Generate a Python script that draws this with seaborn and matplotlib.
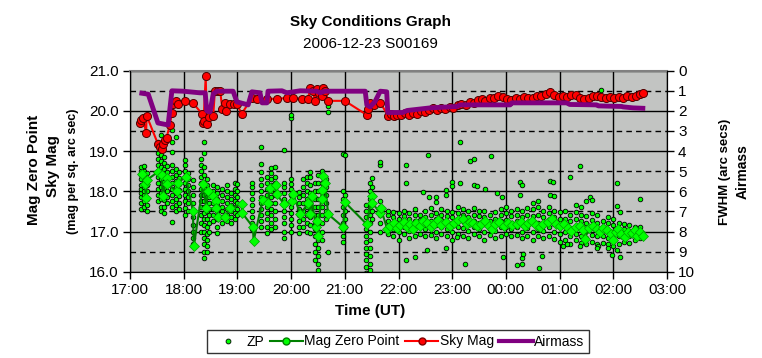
import matplotlib
matplotlib.use('Agg')
import matplotlib.pyplot as plt
import matplotlib.ticker as mticker
from matplotlib.lines import Line2D
import seaborn as sns
import pandas as pd

# time in decimal hours UT (values past 24 are after midnight)
sky_time = [17.19, 17.21, 17.24, 17.30, 17.31, 17.52, 17.55, 17.59, 17.62, 17.66, 17.68, 17.74,
            17.78, 17.81, 17.86, 17.90, 18.02, 18.17, 18.34, 18.36, 18.37, 18.41, 18.43, 18.47,
            18.55, 18.58, 18.63, 18.68, 18.72, 18.77, 18.79, 18.86, 18.93, 18.99, 19.08, 19.27,
            19.36, 19.55, 19.73, 19.92, 20.04, 20.20, 20.32, 20.35, 20.41, 20.44, 20.48, 20.52,
            20.57, 20.60, 20.64, 20.69, 21.00, 21.41, 21.44, 21.47, 21.55, 21.66, 21.81, 21.86,
            21.92, 21.98, 22.05, 22.12, 22.20, 22.27, 22.35, 22.42, 22.50, 22.57, 22.64, 22.72,
            22.80, 22.87, 22.95, 23.02, 23.10, 23.17, 23.25, 23.33, 23.40, 23.48, 23.55, 23.62,
            23.70, 23.78, 23.86, 23.94, 24.02, 24.10, 24.18, 24.26, 24.34, 24.42, 24.50, 24.58,
            24.66, 24.74, 24.82, 24.90, 24.98, 25.06, 25.14, 25.22, 25.30, 25.38, 25.46, 25.54,
            25.62, 25.70, 25.78, 25.86, 25.94, 26.02, 26.10, 26.18, 26.26, 26.34, 26.42, 26.50,
            26.55]
sky_mag = [19.70, 19.78, 19.83, 19.46, 19.88, 19.18, 19.11, 19.04, 19.17, 19.27, 19.33, 19.64,
           19.95, 20.17, 20.24, 20.17, 20.25, 20.20, 19.93, 19.70, 19.75, 20.87, 19.68, 19.84,
           19.88, 20.49, 20.49, 20.49, 20.04, 20.20, 19.99, 20.17, 20.17, 20.17, 19.93, 20.32,
           20.30, 20.30, 20.30, 20.32, 20.32, 20.30, 20.30, 20.57, 20.49, 20.25, 20.54, 20.44,
           20.37, 20.57, 20.49, 20.25, 20.25, 19.90, 20.04, 20.20, 20.14, 20.20, 19.88, 19.92,
           19.87, 19.91, 19.89, 19.94, 19.89, 19.96, 19.92, 19.99, 19.97, 20.03, 20.06, 20.01,
           20.07, 20.04, 20.09, 20.06, 20.14, 20.18, 20.15, 20.22, 20.19, 20.26, 20.29, 20.24,
           20.31, 20.33, 20.37, 20.35, 20.30, 20.28, 20.32, 20.29, 20.34, 20.31, 20.33, 20.38,
           20.36, 20.42, 20.46, 20.40, 20.35, 20.38, 20.34, 20.40, 20.39, 20.33, 20.30, 20.33,
           20.36, 20.37, 20.34, 20.32, 20.35, 20.31, 20.34, 20.33, 20.37, 20.35, 20.37, 20.41,
           20.44]

airmass_time = [17.22, 17.34, 17.52, 17.71, 17.78, 17.99, 18.30, 18.40, 18.43, 18.49, 18.55, 18.62,
                18.92, 18.99, 19.20, 19.27, 19.42, 19.46, 19.55, 19.57, 19.83, 19.92, 20.17, 20.48,
                20.54, 20.63, 21.38, 21.41, 21.47, 21.56, 21.66, 21.78, 21.80, 22.08, 22.16, 22.59,
                23.09, 23.15, 24.08, 24.11, 25.13, 25.19, 25.69, 25.72, 26.16, 26.18, 26.37, 26.55]
airmass = [1.12, 1.17, 2.60, 2.70, 1.00, 1.02, 1.10, 1.10, 2.00, 2.05, 1.15, 1.02,
           1.02, 1.55, 1.70, 1.05, 1.10, 1.60, 1.60, 1.02, 1.00, 1.10, 1.00, 1.02,
           1.10, 1.02, 1.02, 1.70, 1.80, 1.55, 1.02, 1.05, 2.08, 2.08, 1.98, 1.85,
           1.78, 1.70, 1.70, 1.60, 1.60, 1.68, 1.70, 1.75, 1.78, 1.80, 1.85, 1.87]

mzp_time = [17.22, 17.28, 17.30, 17.31, 17.52, 17.59, 17.61, 17.68, 17.69, 17.87, 17.89, 18.04,
            18.17, 18.19, 18.36, 18.42, 18.45, 18.55, 18.60, 18.61, 18.64, 18.77, 18.86, 19.08,
            19.09, 19.29, 19.30, 19.47, 19.57, 19.60, 19.71, 19.73, 19.87, 20.01, 20.04, 20.17,
            20.32, 20.36, 20.38, 20.46, 20.48, 20.50, 20.57, 20.58, 20.59, 20.63, 20.69, 20.97,
            21.00, 21.41, 21.50, 21.51, 21.66, 21.67, 21.79, 21.85, 21.92, 21.98, 22.03, 22.10,
            22.16, 22.22, 22.27, 22.33, 22.40, 22.46, 22.53, 22.60, 22.66, 22.74, 22.80, 22.88,
            22.95, 23.03, 23.10, 23.20, 23.27, 23.33, 23.39, 23.46, 23.53, 23.61, 23.68, 23.74,
            23.80, 23.88, 23.96, 24.04, 24.12, 24.20, 24.28, 24.35, 24.42, 24.49, 24.56, 24.63,
            24.70, 24.78, 24.86, 24.93, 25.00, 25.08, 25.15, 25.22, 25.30, 25.38, 25.43, 25.47,
            25.55, 25.62, 25.69, 25.75, 25.81, 25.88, 25.95, 26.00, 26.05, 26.09, 26.15, 26.22,
            26.28, 26.35, 26.40, 26.44, 26.50, 26.55]
mzp_mag = [18.44, 18.18, 17.83, 18.28, 18.48, 18.41, 17.88, 18.34, 18.18, 18.01, 18.21, 18.36,
           17.51, 16.64, 18.18, 17.58, 18.01, 17.88, 17.76, 17.58, 17.36, 17.36, 17.58, 17.68,
           17.46, 17.11, 16.76, 17.78, 17.71, 18.08, 18.16, 17.93, 17.68, 17.76, 17.93, 17.43,
           17.71, 17.43, 17.88, 17.11, 17.26, 16.88, 18.03, 17.81, 18.38, 18.21, 17.43, 17.11,
           17.73, 17.18, 17.88, 17.71, 17.46, 17.58, 17.06, 17.13, 17.20, 17.08, 17.16, 17.23,
           17.10, 17.18, 17.06, 17.20, 17.13, 17.26, 17.21, 17.10, 17.18, 17.28, 17.16, 17.23,
           17.13, 17.21, 17.28, 17.31, 17.18, 17.23, 17.21, 17.13, 17.18, 17.26, 17.13, 17.06,
           17.18, 17.23, 17.13, 17.21, 17.16, 17.18, 17.23, 17.13, 17.20, 17.26, 17.16, 17.10,
           17.18, 17.23, 17.31, 17.18, 17.13, 17.18, 17.08, 17.01, 17.10, 17.13, 17.03, 16.82,
           17.08, 17.13, 17.06, 16.98, 17.08, 17.03, 16.93, 16.78, 16.98, 17.06, 16.93, 16.86,
           16.98, 16.96, 17.03, 16.88, 16.98, 16.88]

# individual zero point measurements, grouped in columns (one column per observation block)
zp_col_time = [17.20, 17.26, 17.31, 17.52, 17.57, 17.63, 17.68, 17.78, 17.85, 17.91, 18.03, 18.08,
               18.17, 18.32, 18.37, 18.43, 18.48, 18.55, 18.62, 18.72, 18.80, 18.88, 18.95, 19.00,
               19.28, 19.44, 19.55, 19.62, 19.70, 19.86, 20.00, 20.15, 20.22, 20.30, 20.36, 20.45,
               20.50, 20.58, 20.65, 20.69, 20.97, 21.00, 21.40, 21.46, 21.50, 21.66,
               21.80, 21.90, 22.00, 22.10, 22.20, 22.30, 22.40, 22.50, 22.60, 22.70, 22.80, 22.90,
               23.00, 23.10, 23.20, 23.30, 23.40, 23.50, 23.60, 23.70, 23.80, 23.90, 24.00, 24.10,
               24.20, 24.30, 24.40, 24.50, 24.60, 24.70, 24.80, 24.90, 25.00, 25.10, 25.20, 25.30,
               25.40, 25.50, 25.60, 25.70, 25.80, 25.90, 26.00, 26.10, 26.20, 26.30, 26.40, 26.50]
zp_col_mags = [
    [17.55, 17.7, 17.85, 17.95, 18.05, 18.15, 18.3, 18.4, 18.5, 18.6],
    [17.6, 17.75, 17.9, 18.0, 18.1, 18.25, 18.35, 18.5, 18.62],
    [17.5, 17.65, 17.8, 18.0, 18.15, 18.28, 18.45],
    [17.75, 17.9, 18.05, 18.2, 18.35, 18.5, 18.65, 18.8, 18.95, 19.22],
    [17.5, 17.6, 17.8, 17.95, 18.1, 18.3, 18.45, 18.6, 18.75, 18.9, 19.05, 19.4],
    [17.45, 17.62, 17.78, 17.92, 18.08, 18.22, 18.4, 18.55, 18.7, 18.85],
    [17.7, 17.85, 18.0, 18.15, 18.3, 18.48, 18.62],
    [17.23, 17.6, 17.75, 17.9, 18.05, 18.2, 18.35, 18.5, 18.65, 18.98, 19.22, 19.52],
    [17.5, 17.65, 17.8, 17.95, 18.1, 18.25, 18.4, 18.55, 19.35],
    [17.55, 17.7, 17.88, 18.02, 18.18, 18.32, 18.48],
    [17.42, 17.58, 17.75, 17.9, 18.05, 18.2, 18.35, 18.5, 18.65, 18.78],
    [17.5, 17.7, 17.85, 18.0, 18.15, 18.3, 18.45],
    [16.7, 16.85, 17.0, 17.15, 17.35, 17.5, 17.7, 17.9, 18.1, 18.28],
    [17.0, 17.2, 17.4, 17.6, 17.75, 17.9, 18.05, 18.2, 18.35, 18.5, 18.65, 18.8],
    [16.35, 16.5, 16.7, 16.85, 17.0, 17.15, 17.3, 17.45, 17.6, 17.75, 17.9, 18.05, 18.2, 18.4,
     18.6, 18.95, 19.23],
    [16.5, 16.65, 16.8, 16.95, 17.1, 17.3, 17.5, 17.7, 17.85, 18.0, 18.15, 18.3],
    [17.0, 17.2, 17.4, 17.55, 17.7, 17.85, 18.0],
    [17.25, 17.4, 17.55, 17.7, 17.85, 18.0, 18.15],
    [16.96, 17.1, 17.3, 17.5, 17.65, 17.8, 17.95, 18.1],
    [17.2, 17.35, 17.5, 17.62, 17.75, 17.9, 18.05],
    [17.25, 17.4, 17.55, 17.7, 17.85, 18.0, 18.15],
    [17.2, 17.35, 17.5, 17.65, 17.8, 17.95],
    [17.3, 17.45, 17.6, 17.75, 17.9, 18.05, 18.2],
    [17.4, 17.55, 17.7, 17.85, 18.0, 18.18],
    [17.05, 17.2, 17.35, 17.5, 17.65, 17.8, 17.95, 18.1, 18.2],
    [17.1, 17.25, 17.4, 17.55, 17.7, 17.85, 18.0, 18.15, 18.3, 18.48, 18.68, 19.1],
    [16.96, 17.1, 17.3, 17.45, 17.6, 17.75, 17.9, 18.05, 18.2, 18.35],
    [17.05, 17.2, 17.4, 17.55, 17.7, 17.85, 18.0, 18.15, 18.3, 18.45, 18.58],
    [17.1, 17.3, 17.5, 17.7, 17.9, 18.05, 18.2, 18.35, 18.6],
    [16.85, 17.0, 17.2, 17.35, 17.5, 17.65, 17.8, 17.95, 18.1, 18.2, 19.03],
    [17.0, 17.15, 17.3, 17.45, 17.6, 17.75, 17.9, 18.05, 18.18, 18.3, 19.82, 19.9],
    [16.96, 17.1, 17.25, 17.4, 17.55, 17.7, 17.85, 17.98],
    [17.1, 17.3, 17.5, 17.7, 17.9, 18.1, 18.3],
    [17.0, 17.2, 17.4, 17.6, 17.8, 18.0, 18.2, 18.35],
    [16.96, 17.15, 17.35, 17.55, 17.75, 17.95, 18.15, 18.35, 18.48],
    [16.3, 16.5, 16.7, 16.9, 17.05, 17.2, 17.4, 17.6, 17.8, 18.0, 18.2],
    [16.05, 16.2, 16.4, 16.6, 16.8, 17.0, 17.2, 17.4, 17.6, 17.8, 18.0, 18.2, 18.4],
    [16.8, 17.0, 17.2, 17.4, 17.6, 17.8, 18.0, 18.2, 18.4, 18.5],
    [17.3, 17.5, 17.7, 17.9, 18.1, 18.3],
    [16.5, 17.45, 19.97, 20.12],
    [16.74, 16.9, 17.05, 17.2, 17.4, 17.6, 17.8, 18.0, 18.93],
    [17.1, 17.3, 17.5, 17.7, 17.9, 18.9],
    [15.97, 16.12, 16.3, 16.45, 16.6, 16.75, 16.9, 17.05, 17.2, 17.35, 17.5, 17.65],
    [16.05, 16.2, 16.4, 16.6, 16.8, 17.0, 17.2, 17.4, 17.6, 17.8, 18.0, 18.2],
    [17.3, 17.5, 17.7, 17.9, 18.1, 18.33],
    [17.0, 17.2, 17.4, 17.6, 17.75, 18.65, 18.72],
    [16.95, 17.1, 17.25, 17.4, 17.5],
    [16.9, 17.05, 17.2, 17.35, 17.48],
    [16.8, 17.0, 17.15, 17.3, 17.45],
    [16.95, 17.1, 17.22, 17.38, 17.52],
    [16.85, 17.02, 17.18, 17.32, 17.45],
    [16.9, 17.08, 17.25, 17.4, 17.55],
    [16.95, 17.12, 17.28, 17.42],
    [16.88, 17.05, 17.2, 17.35, 17.5],
    [16.92, 17.1, 17.25, 17.4, 17.58],
    [16.85, 17.0, 17.15, 17.3, 17.45],
    [16.95, 17.1, 17.28, 17.42, 17.55],
    [16.9, 17.05, 17.2, 17.38, 17.5],
    [16.8, 17.0, 17.18, 17.35, 17.48],
    [16.95, 17.12, 17.28, 17.45, 17.6],
    [16.9, 17.08, 17.25, 17.4, 17.55],
    [16.85, 17.02, 17.2, 17.35, 17.5],
    [16.95, 17.1, 17.25, 17.42, 17.58],
    [16.9, 17.05, 17.22, 17.38, 17.52],
    [16.8, 17.0, 17.18, 17.35, 17.5],
    [16.92, 17.08, 17.25, 17.4],
    [16.85, 17.02, 17.18, 17.32, 17.48],
    [16.9, 17.1, 17.25, 17.42, 17.55],
    [16.95, 17.12, 17.28, 17.45, 17.6],
    [16.88, 17.05, 17.22, 17.38, 17.52],
    [16.92, 17.1, 17.25, 17.4, 17.55],
    [16.85, 17.0, 17.18, 17.35, 17.5],
    [16.9, 17.08, 17.22, 17.4, 17.58],
    [16.8, 17.0, 17.2, 17.38, 17.55, 17.7],
    [16.88, 17.05, 17.22, 17.4, 17.6, 17.75],
    [16.85, 17.02, 17.18, 17.35, 17.52],
    [16.9, 17.1, 17.28, 17.45, 17.62],
    [16.82, 17.0, 17.18, 17.35, 17.5],
    [16.75, 16.95, 17.12, 17.3, 17.48],
    [16.8, 17.0, 17.15, 17.32, 17.5],
    [16.7, 16.9, 17.08, 17.25, 17.42],
    [16.78, 16.95, 17.12, 17.3, 17.48, 17.65],
    [16.72, 16.9, 17.08, 17.25, 17.42, 17.6],
    [16.68, 16.85, 17.02, 17.2, 17.38],
    [16.75, 16.92, 17.1, 17.28, 17.45],
    [16.7, 16.88, 17.05, 17.22, 17.4],
    [16.72, 16.9, 17.08, 17.25],
    [16.68, 16.85, 17.02, 17.2, 17.35],
    [16.65, 16.8, 16.98, 17.15, 17.3],
    [16.7, 16.88, 17.05, 17.2],
    [16.75, 16.9, 17.05, 17.18],
    [16.72, 16.88, 17.02, 17.15],
    [16.8, 16.95, 17.1],
    [16.85, 17.0, 17.12],
]

# scattered outliers after 22:00
zp_extra_time = [22.14, 22.14, 22.14, 22.30, 22.45, 22.55, 22.53, 22.57, 22.70, 22.70, 22.88, 22.88,
                 22.88, 22.99, 22.99, 23.09, 23.15, 23.15, 23.24, 23.33, 23.40, 23.41, 23.46, 23.61,
                 23.72, 23.83, 23.92, 23.94, 24.20, 24.27, 24.30, 24.27, 24.30, 24.30, 24.32, 24.62,
                 24.68, 24.82, 24.88, 24.82, 24.90, 25.06, 25.13, 25.19, 25.38, 25.38, 25.57, 25.50,
                 25.60, 25.72, 25.70, 25.90, 25.98, 26.07, 26.07, 26.13, 26.13, 26.07, 26.50, 25.77]
zp_extra_mag = [18.65, 18.20, 16.29, 16.36, 17.98, 18.90, 16.54, 17.85, 17.85, 17.73, 18.03, 17.90,
                16.58, 18.23, 18.13, 16.86, 18.20, 19.22, 16.20, 18.76, 18.80, 18.15, 18.13, 18.05,
                18.88, 17.96, 17.85, 16.37, 16.17, 18.23, 18.15, 17.90, 16.20, 16.33, 16.45, 16.10,
                16.40, 18.25, 18.22, 17.90, 17.88, 16.65, 16.70, 18.36, 18.63, 16.65, 17.85, 17.75,
                17.78, 16.65, 16.60, 16.60, 16.42, 18.20, 17.63, 17.48, 16.36, 16.53, 17.80, 20.52]

zp_t = [t for t, col in zip(zp_col_time, zp_col_mags) for _ in col] + zp_extra_time
zp_m = [m for col in zp_col_mags for m in col] + zp_extra_mag
zp_df = pd.DataFrame({'time': zp_t, 'mag': zp_m})

plt.rcParams['font.family'] = ['Liberation Sans', 'DejaVu Sans']

fig = plt.figure(figsize=(7.62, 3.58), dpi=100)
ax = fig.add_axes([130 / 762, 86.3 / 358, 537 / 762, 201 / 358])
ax.set_facecolor('#c2c4c2')

sns.scatterplot(data=zp_df, x='time', y='mag', ax=ax, s=11, color='#00ff00',
                edgecolor='black', linewidth=0.6, zorder=3, legend=False)
sns.lineplot(x=mzp_time, y=mzp_mag, ax=ax, estimator=None, sort=False, color='#008000',
             lw=1.5, marker='D', markersize=5, markerfacecolor='#00ff00',
             markeredgecolor='#00a000', markeredgewidth=0.5, zorder=4)
sns.lineplot(x=sky_time, y=sky_mag, ax=ax, estimator=None, sort=False, color='#ff0000',
             lw=1.5, marker='o', markersize=5.8, markerfacecolor='#ff0000',
             markeredgecolor='#500000', markeredgewidth=0.7, zorder=5)

ax.set_xlim(17, 27)
ax.set_ylim(16, 21)
ax.xaxis.set_major_locator(mticker.MultipleLocator(1))
ax.xaxis.set_major_formatter(mticker.FuncFormatter(lambda v, p: f'{int(round(v)) % 24:02d}:00'))
ax.yaxis.set_major_locator(mticker.MultipleLocator(1))
ax.yaxis.set_minor_locator(mticker.MultipleLocator(0.5))
ax.yaxis.set_major_formatter(mticker.FormatStrFormatter('%.1f'))
ax.grid(which='major', axis='both', color='black', lw=1, ls='-')
ax.grid(which='minor', axis='y', color='black', lw=1, ls=(0, (4, 3)))
ax.set_axisbelow(True)
ax.tick_params(which='major', direction='out', length=5, width=1, labelsize=11, pad=3)
ax.tick_params(which='minor', length=0)
ax.set_xlabel('')
ax.set_ylabel('')
for s in ['left', 'bottom', 'right']:
    ax.spines[s].set_color('black')
ax.spines['top'].set_color('#808080')
ax.spines['top'].set_linewidth(1.5)

ax2 = ax.twinx()
sns.lineplot(x=airmass_time, y=airmass, ax=ax2, estimator=None, sort=False,
             color='#800080', lw=3.5, zorder=6)
ax2.set_ylim(10, 0)
ax2.yaxis.set_major_locator(mticker.MultipleLocator(1))
ax2.tick_params(direction='out', length=5, width=1, labelsize=11, pad=3)
ax2.set_ylabel('')
ax2.spines['top'].set_visible(False)

# titles and axis labels
fig.text(370 / 762, 1 - 22 / 358, 'Sky Conditions Graph', ha='center', va='center',
         fontsize=11, fontweight='bold')
fig.text(370 / 762, 1 - 44 / 358, '2006-12-23 S00169', ha='center', va='center', fontsize=11)
fig.text(370 / 762, 1 - 311 / 358, 'Time (UT)', ha='center', va='center',
         fontsize=11, fontweight='bold')
fig.text(34 / 762, 1 - 170 / 358, 'Mag Zero Point', rotation=90, ha='center', va='center',
         fontsize=11, fontweight='bold')
fig.text(53 / 762, 1 - 166 / 358, 'Sky Mag', rotation=90, ha='center', va='center',
         fontsize=11, fontweight='bold')
fig.text(73 / 762, 1 - 171 / 358, '(mag per sq. arc sec)', rotation=90, ha='center',
         va='center', fontsize=9, fontweight='bold')
fig.text(725 / 762, 1 - 172 / 358, 'FWHM (arc secs)', rotation=90, ha='center', va='center',
         fontsize=9.5, fontweight='bold')
fig.text(743 / 762, 1 - 172 / 358, 'Airmass', rotation=90, ha='center', va='center',
         fontsize=10, fontweight='bold')

handles = [
    Line2D([], [], ls='none', marker='o', markersize=3.5, markerfacecolor='#00ff00',
           markeredgecolor='black', markeredgewidth=0.6),
    Line2D([], [], color='#008000', lw=1.5, marker='o', markersize=5,
           markerfacecolor='#00ff00', markeredgecolor='#008000'),
    Line2D([], [], color='#ff0000', lw=1.5, marker='o', markersize=5,
           markerfacecolor='#ff0000', markeredgecolor='#800000'),
    Line2D([], [], color='#800080', lw=3),
]
leg = fig.legend(handles, ['ZP', 'Mag Zero Point', 'Sky Mag', 'Airmass'], loc='center',
                 bbox_to_anchor=(398 / 762, 1 - 341.5 / 358), ncol=4, fontsize=10,
                 frameon=True, fancybox=False, handlelength=2.4, handletextpad=0.1,
                 columnspacing=0.4, borderpad=0.3, numpoints=1)
leg.get_frame().set_edgecolor('black')
leg.get_frame().set_linewidth(1)

fig.savefig('out.png', dpi=100)
